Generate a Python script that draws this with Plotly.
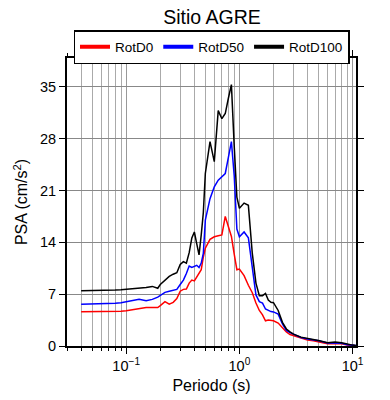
import plotly.graph_objects as go

periods = [0.04, 0.05, 0.06, 0.07, 0.08, 0.09, 0.1, 0.11, 0.12, 0.13, 0.15, 0.17, 0.19, 0.2,
           0.22, 0.24, 0.26, 0.28, 0.3, 0.32, 0.34, 0.36, 0.38, 0.4, 0.42, 0.44, 0.46, 0.48,
           0.5, 0.55, 0.6, 0.65, 0.7, 0.75, 0.8, 0.85, 0.9, 0.95, 1.0, 1.1, 1.2, 1.3, 1.4,
           1.5, 1.6, 1.7, 1.8, 1.9, 2.0, 2.2, 2.4, 2.6, 2.8, 3.0, 3.5, 4.0, 4.5, 5.0, 6.0,
           7.0, 8.0, 9.0, 10.0, 10.7]

rotd100 = [7.45, 7.45, 7.5, 7.5, 7.55, 7.6, 7.65, 7.7, 7.75, 7.8, 7.9, 8.05, 7.8, 8.3,
           8.9, 9.4, 9.7, 9.9, 11.0, 11.4, 11.2, 12.6, 14.6, 15.4, 13.8, 12.3, 15.0, 18.0,
           23.3, 27.6, 24.9, 31.8, 30.7, 31.4, 33.5, 35.3, 27.0, 20.1, 18.6, 19.3, 19.0, 12.5, 8.5,
           6.8, 6.8, 7.1, 6.2, 5.9, 5.85, 4.8, 3.2, 2.3, 1.9, 1.6, 1.2, 1.05, 0.9, 0.75, 0.45,
           0.55, 0.45, 0.22, 0.12, 0.08]

rotd50 = [5.65, 5.67, 5.7, 5.72, 5.78, 5.85, 5.95, 6.1, 6.2, 6.3, 6.1, 6.3, 6.6, 6.85,
          7.25, 7.4, 7.5, 7.65, 8.3, 8.9, 9.8, 10.8, 10.6, 10.8, 10.9, 10.6, 11.2, 12.5,
          17.0, 19.9, 21.5, 22.4, 22.9, 23.3, 25.5, 27.6, 23.0, 15.8, 14.75, 15.4, 14.6, 10.5, 6.9,
          6.0, 5.8, 5.0, 4.8, 4.65, 4.6, 4.3, 3.0, 2.1, 1.8, 1.6, 1.15, 0.95, 0.85, 0.7, 0.42,
          0.45, 0.38, 0.18, 0.1, 0.07]

rotd0 = [4.63, 4.63, 4.65, 4.63, 4.65, 4.7, 4.75, 4.85, 5.0, 5.1, 5.2, 5.2, 5.2, 5.45,
         6.0, 5.65, 5.9, 6.4, 7.4, 7.65, 7.7, 8.5, 8.9, 8.8, 9.3, 9.8, 10.3, 12.0,
         13.2, 14.4, 14.75, 14.9, 15.0, 17.5, 16.0, 14.8, 12.4, 10.3, 10.4, 9.5, 8.2, 7.2, 5.8,
         4.8, 4.2, 3.4, 3.5, 3.45, 3.4, 3.1, 2.5, 1.9, 1.55, 1.4, 1.05, 0.8, 0.7, 0.55, 0.3,
         0.35, 0.3, 0.12, 0.06, 0.04]

series_names = ["RotD0", "RotD50", "RotD100"]
series_colors = ["#ff0000", "#0000ff", "#000000"]
series_values = [rotd0, rotd50, rotd100]
y_ticks = [0, 7, 14, 21, 28, 35]
x_tickvals = [0.1, 1, 10]
x_ticktext = ["10<sup>\u22121</sup>", "10<sup>0</sup>", "10<sup>1</sup>"]
x_minor_vals = [0.03, 0.04, 0.05, 0.06, 0.07, 0.08, 0.09,
                0.2, 0.3, 0.4, 0.5, 0.6, 0.7, 0.8, 0.9,
                2, 3, 4, 5, 6, 7, 8, 9]

fig = go.Figure()
for name, color, vals in zip(series_names, series_colors, series_values):
    fig.add_trace(go.Scatter(x=periods, y=vals, mode="lines", name=name,
                             line=dict(color=color, width=1.5), showlegend=False))
for name, color in zip(series_names, series_colors):
    fig.add_trace(go.Scatter(x=[None], y=[None], mode="lines", name=name,
                             line=dict(color=color, width=4), showlegend=True))

font = "Liberation Sans, Arial, sans-serif"
fig.update_layout(
    width=390, height=400,
    margin=dict(l=59, r=42, t=50, b=62, autoexpand=False),
    paper_bgcolor="white", plot_bgcolor="white",
    font=dict(family=font, color="#000", size=14),
    title=dict(text="Sitio AGRE", x=0.523, xanchor="center", y=0.978, yanchor="middle",
               font=dict(size=19.5, color="#000")),
    legend=dict(orientation="h", x=0.5, xanchor="center", y=1.097, yanchor="top",
                bordercolor="#000", borderwidth=1.5, font=dict(size=13.5),
                itemwidth=30, tracegroupgap=0, bgcolor="white"),
    xaxis=dict(type="log", range=[-1.523, 1.03], tickvals=x_tickvals, ticktext=x_ticktext,
               showline=True, linecolor="#000", linewidth=2, mirror="allticks",
               ticks="outside", ticklen=6, tickcolor="#000",
               showgrid=True, gridcolor="#999", gridwidth=1,
               minor=dict(tickvals=x_minor_vals, ticks="outside", ticklen=3, tickcolor="#000",
                          showgrid=True, gridcolor="#aaa", gridwidth=1),
               title=dict(text="Periodo (s)", font=dict(size=16), standoff=6),
               tickfont=dict(size=14.5), zeroline=False, automargin=False),
    yaxis=dict(range=[0, 38.9], tickvals=y_ticks,
               showline=True, linecolor="#000", linewidth=2, mirror="allticks",
               ticks="outside", ticklen=6, tickcolor="#000",
               showgrid=True, gridcolor="#888", gridwidth=1,
               title=dict(text="PSA (cm/s<sup>2</sup>)", font=dict(size=16), standoff=8),
               tickfont=dict(size=14.5), zeroline=False, automargin=False),
)

fig.write_html("out.html")
